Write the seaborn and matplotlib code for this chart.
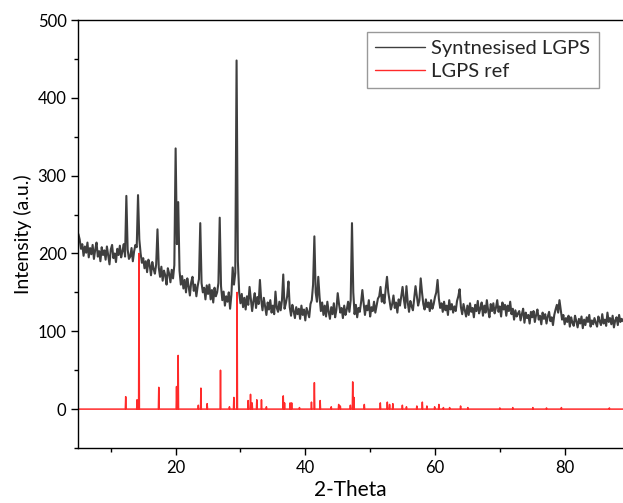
import numpy as np
import pandas as pd
import seaborn as sns
from matplotlib import pyplot as plt
from matplotlib.ticker import MultipleLocator

# measured pattern, 2-theta from 5 to 89 deg in 0.2 deg steps
theta_start = 5.0
theta_step = 0.2
synth_counts = [
    225, 218, 206, 212, 197, 209, 201, 214, 195, 207,   # 5.0
    199, 211, 193, 205, 214, 196, 203, 190, 208, 198,   # 7.0
    204, 192, 209, 197, 186, 205, 211, 194, 200, 189,   # 9.0
    206, 198, 210, 195, 203, 212, 196, 274, 205, 193,   # 11.0
    196, 207, 190, 203, 211, 208, 275, 218, 200, 188,   # 13.0
    194, 181, 190, 176, 192, 185, 172, 189, 180, 174,   # 15.0
    186, 231, 182, 170, 183, 165, 178, 172, 160, 181,   # 17.0
    174, 163, 179, 168, 185, 335, 212, 266, 178, 160,   # 19.0
    171, 155, 166, 150, 168, 158, 146, 163, 170, 152,   # 21.0
    160, 145, 158, 167, 239, 162, 150, 156, 141, 159,   # 23.0
    148, 160, 141, 153, 137, 156, 145, 150, 162, 246,   # 25.0
    158, 140, 151, 133, 145, 138, 150, 129, 147, 182,   # 27.0
    160, 175, 448, 190, 150, 136, 148, 131, 143, 128,   # 29.0
    145, 134, 157, 141, 126, 139, 149, 130, 144, 135,   # 31.0
    166, 140, 127, 143, 132, 121, 137, 128, 140, 124,   # 33.0
    133, 122, 151, 130, 125, 138, 127, 140, 173, 129,   # 35.0
    136, 145, 164, 131, 120, 134, 126, 117, 131, 122,   # 37.0
    129, 116, 133, 121, 128, 114, 130, 124, 118, 135,   # 39.0
    140, 160, 222, 150, 138, 170, 144, 126, 137, 121,   # 41.0
    133, 119, 138, 125, 116, 131, 122, 136, 118, 128,   # 43.0
    149, 135, 124, 130, 117, 133, 121, 128, 138, 125,   # 45.0
    140, 239, 150, 122, 134, 118, 130, 125, 137, 153,   # 47.0
    136, 121, 133, 127, 140, 119, 131, 126, 138, 124,   # 49.0
    133, 142, 145, 157, 138, 147, 136, 155, 170, 150,   # 51.0
    139, 128, 135, 146, 130, 137, 124, 141, 133, 145,   # 53.0
    157, 141, 130, 158, 137, 125, 139, 132, 127, 143,   # 55.0
    158, 146, 133, 140, 168, 150, 135, 128, 141, 131,   # 57.0
    137, 126, 140, 129, 135, 144, 150, 166, 142, 130,   # 59.0
    136, 125, 138, 127, 133, 121, 140, 128, 135, 124,   # 61.0
    132, 126, 139, 145, 154, 131, 122, 135, 127, 119,   # 63.0
    133, 121, 136, 125, 130, 118, 134, 126, 139, 123,   # 65.0
    129, 137, 120, 133, 124, 140, 127, 118, 135, 126,   # 67.0
    136, 123, 130, 140, 125, 132, 119, 137, 128, 134,   # 69.0
    120, 133, 126, 138, 122, 129, 115, 127, 119, 123,   # 71.0
    126, 114, 122, 129, 111, 124, 117, 121, 110, 125,   # 73.0
    118, 126, 112, 121, 128, 115, 120, 109, 124, 116,   # 75.0
    122, 110, 119, 125, 113, 118, 108, 121, 128, 134,   # 77.0
    124, 140, 127, 115, 121, 109, 117, 112, 120, 106,   # 79.0
    118, 111, 107, 120, 113, 105, 116, 110, 119, 104,   # 81.0
    115, 108, 118, 112, 121, 106, 114, 109, 117, 111,   # 83.0
    106, 119, 113, 108, 122, 110, 115, 107, 124, 112,   # 85.0
    117, 109, 120, 105, 114, 118, 108, 121, 112, 116,   # 87.0
    113,                                                # 89.0
]

# reference pattern: peak positions and heights
ref_pos = [12.3, 14.05, 14.35, 17.4, 20.14, 20.39, 23.5, 23.9, 24.86, 26.92,
           28.3, 28.98, 29.48, 31.18, 31.55, 31.8, 32.52, 33.24, 34.0, 36.6,
           36.8, 37.66, 37.9, 39.1, 40.95, 41.4, 42.29, 44.0, 45.15, 45.4,
           46.95, 47.31, 47.5, 49.1, 51.57, 52.65, 53.0, 53.5, 54.97, 55.6,
           57.2, 58.05, 58.75, 59.95, 60.6, 61.3, 62.26, 63.95, 65.07, 70.0,
           72.0, 75.1, 77.2, 79.5, 86.9]
ref_int = [16, 12, 200, 28, 29, 69, 5, 27, 7, 50,
           3, 15, 150, 11, 19, 8, 12, 12, 3, 17,
           8, 8, 8, 2, 9, 34, 11, 3, 6, 4,
           5, 35, 15, 6, 8, 9, 6, 7, 5, 3,
           4, 9, 4, 3, 6, 2, 2, 4, 2, 1.5,
           2, 2, 1.5, 2, 1.5]

theta = theta_start + theta_step * np.arange(len(synth_counts))
synth = pd.DataFrame({"theta": theta, "counts": synth_counts})

# stick pattern drawn as a line that sits on zero between the peaks
half_w = 0.06
rx, ry = [5.0], [0.0]
for p, h in zip(ref_pos, ref_int):
    rx += [p - half_w, p, p + half_w]
    ry += [0.0, h, 0.0]
rx.append(89.0)
ry.append(0.0)
ref = pd.DataFrame({"theta": rx, "counts": ry})

sns.set_theme(style="ticks")
plt.rcParams["font.family"] = ["Lato", "DejaVu Sans"]

fig = plt.figure(figsize=(6.23, 5.03), dpi=100)
ax = fig.add_axes([0.1258, 0.1093, 0.8742, 0.8509])

sns.lineplot(data=synth, x="theta", y="counts", ax=ax, color="#3f3f3f",
             linewidth=1.5, label="Syntnesised LGPS", sort=False)
sns.lineplot(data=ref, x="theta", y="counts", ax=ax, color="#ff2a2a",
             linewidth=1.1, label="LGPS ref", sort=False)

ax.set_xlim(5, 89)
ax.set_ylim(-50, 500)
ax.xaxis.set_major_locator(MultipleLocator(20))
ax.xaxis.set_minor_locator(MultipleLocator(10))
ax.yaxis.set_major_locator(MultipleLocator(100))
ax.yaxis.set_minor_locator(MultipleLocator(50))
ax.tick_params(which="major", direction="out", length=5, width=1,
               labelsize=12, color="black", labelcolor="black")
ax.tick_params(which="minor", direction="out", length=3, width=1, color="black")
for s in ["left", "bottom", "top"]:
    ax.spines[s].set_color("black")
    ax.spines[s].set_linewidth(1.0)
ax.spines["right"].set_visible(False)

ax.set_xlabel("2-Theta", fontsize=15, color="black", labelpad=3)
ax.set_ylabel("Intensity (a.u.)", fontsize=14, color="black")

leg = ax.legend(loc="upper left", bbox_to_anchor=(0.53, 0.972), fontsize=14.5,
                frameon=True, fancybox=False, handlelength=2.5,
                handletextpad=0.3, borderpad=0.4, borderaxespad=0,
                labelspacing=0.3)
leg.get_frame().set_edgecolor("#808080")
leg.get_frame().set_linewidth(1.0)
for ln in leg.get_lines():
    ln.set_linewidth(1.0)

fig.savefig("out.png", dpi=100)
